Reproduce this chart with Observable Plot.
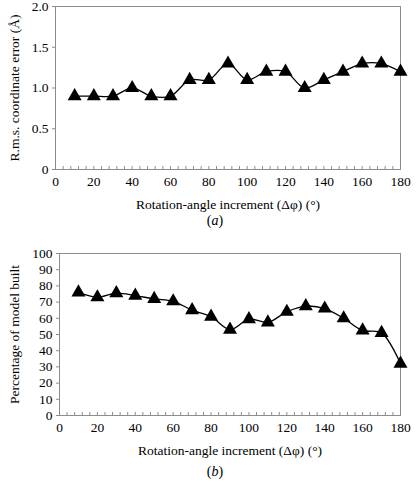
<!DOCTYPE html>
<html><head><meta charset="utf-8">
<script src="https://cdn.jsdelivr.net/npm/d3@7"></script>
<script src="https://cdn.jsdelivr.net/npm/@observablehq/plot@0.6"></script>
<style>
body{margin:0;background:#fff;width:420px;height:482px;overflow:hidden;font-family:"Liberation Serif",serif}
#chart{position:relative;width:420px;height:482px}
.cap{width:420px;box-sizing:border-box;padding-left:10px;text-align:center;font-size:14px;color:#000;font-family:"Liberation Serif",serif}
svg{display:block}
</style></head><body><div id="chart"></div><script>
const angles = [10,20,30,40,50,60,70,80,90,100,110,120,130,140,150,160,170,180];
const rmsError = [0.9,0.9,0.9,1.0,0.9,0.9,1.1,1.1,1.3,1.1,1.2,1.2,1.0,1.1,1.2,1.3,1.3,1.2];
const percentBuilt = [76,73,75.5,74,72,70.5,65,61,53,59.5,57.5,64,67.5,66,60,52.5,51,32];
const xTicks = [0,20,40,60,80,100,120,140,160,180];
const xMinorTicks = d3.range(0,181,4);
const yTicksA = [0,0.5,1.0,1.5,2.0];
const yTicksB = [0,10,20,30,40,50,60,70,80,90,100];
const xLabel = "Rotation-angle increment (\u0394\u03c6) (\u00b0)";
const yLabelA = "R.m.s. coordinate error (\u00c5)";
const yLabelB = "Percentage of model built";

const dataA = angles.map((a,i)=>({a, v: rmsError[i]}));
const dataB = angles.map((a,i)=>({a, v: percentBuilt[i]}));

function panel({data, yDomain, yTicks, yFormat, yLabel, height, mt, mb, ml, yLabelOffset}) {
  return Plot.plot({
    width: 420, height, marginTop: mt, marginBottom: mb, marginLeft: ml, marginRight: 20,
    style: {fontFamily: "Liberation Serif, serif", fontSize: "13.5px", background: "white", color: "black"},
    x: {domain: [0,180]},
    y: {domain: yDomain},
    marks: [
      Plot.frame({stroke: "#8c8c8c", strokeWidth: 1}),
      Plot.axisX(xMinorTicks, {tickSize: -3, text: null, stroke: "#8c8c8c", label: null}),
      Plot.axisX(xTicks, {tickSize: 0, tickPadding: 7, fontSize: 13.5, label: xLabel, labelAnchor: "center", labelOffset: 39, labelArrow: "none", fill: "black"}),
      Plot.axisY(yTicks, {tickSize: 3, tickPadding: 4, fontSize: 13.5, tickFormat: yFormat, label: yLabel, labelAnchor: "center", labelOffset: yLabelOffset, labelArrow: "none", stroke: "#8c8c8c", fill: "black"}),
      Plot.line(data, {x: "a", y: "v", curve: "catmull-rom", stroke: "black", strokeWidth: 1.3}),
      Plot.dot(data, {x: "a", y: "v", symbol: "triangle", r: 5.2, fill: "black", stroke: "none"})
    ]
  });
}

const root = document.getElementById("chart");
root.append(panel({data: dataA, yDomain: [0,2], yTicks: yTicksA, yFormat: d => d === 0 ? "0" : d.toFixed(1), yLabel: yLabelA, height: 212, mt: 6, mb: 43, ml: 55, yLabelOffset: 46}));
const capA = document.createElement("div");
capA.className = "cap"; capA.style.height = "18px"; capA.style.lineHeight = "18px";
capA.innerHTML = "(<i>a</i>)";
root.append(capA);
root.append(panel({data: dataB, yDomain: [0,100], yTicks: yTicksB, yFormat: d => String(d), yLabel: yLabelB, height: 232, mt: 23, mb: 47, ml: 59, yLabelOffset: 50}));
const capB = document.createElement("div");
capB.className = "cap"; capB.style.height = "20px"; capB.style.lineHeight = "20px";
capB.innerHTML = "(<i>b</i>)";
root.append(capB);
</script></body></html>
